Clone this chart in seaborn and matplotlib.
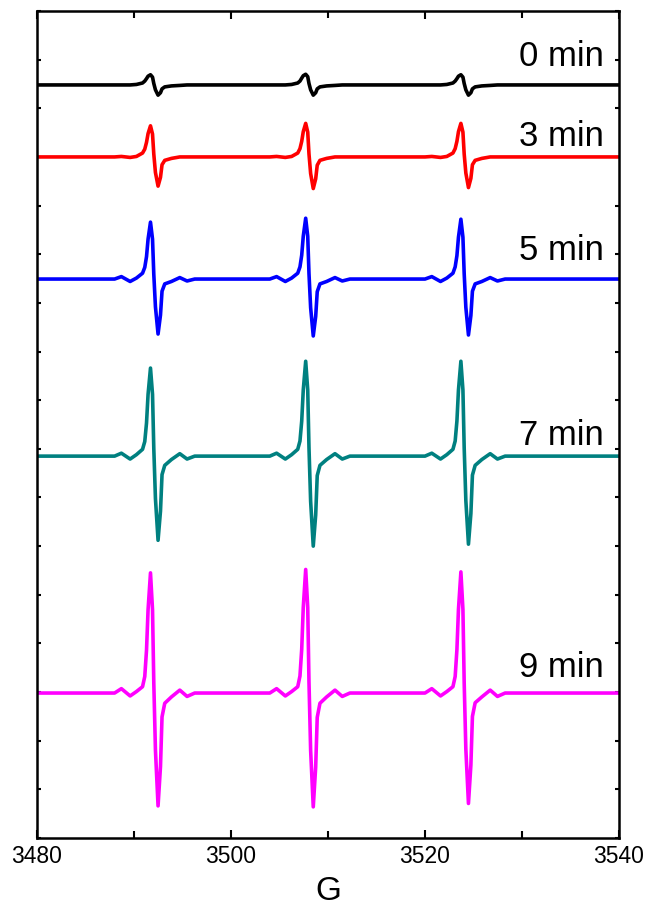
import numpy as np
import pandas as pd
import matplotlib
matplotlib.use("Agg")
import matplotlib.pyplot as plt
from matplotlib.ticker import MultipleLocator, NullFormatter
import seaborn as sns

# EPR spectra (field in G, intensity in
# arbitrary units relative to each trace's own baseline)
field_G = [3480.0,
           3488.00, 3488.70, 3489.60, 3490.25, 3490.88, 3491.11, 3491.29, 3491.45, 3491.70, 3491.91,
           3492.04, 3492.21, 3492.48, 3492.73, 3492.89, 3493.17, 3493.86, 3494.72, 3495.47, 3496.26,
           3504.00, 3504.70, 3505.60, 3506.25, 3506.88, 3507.11, 3507.29, 3507.45, 3507.70, 3507.91,
           3508.04, 3508.21, 3508.48, 3508.73, 3508.89, 3509.17, 3509.86, 3510.72, 3511.47, 3512.26,
           3520.00, 3520.70, 3521.60, 3522.25, 3522.88, 3523.11, 3523.29, 3523.45, 3523.70, 3523.91,
           3524.04, 3524.21, 3524.48, 3524.73, 3524.89, 3525.17, 3525.86, 3526.72, 3527.47, 3528.26,
           3540.0]

int_0min = [0.0,
            0, 0.0, 0.0, 0.01, 0.04, 0.08, 0.13, 0.18, 0.21, 0.16,
            0.03, -0.10, -0.21, -0.16, -0.08, -0.04, -0.02, -0.01, 0.0, 0.0,
            0, 0.0, 0.0, 0.01, 0.04, 0.08, 0.14, 0.19, 0.22, 0.17,
            0.03, -0.10, -0.21, -0.16, -0.08, -0.04, -0.02, -0.01, 0.0, 0.0,
            0, 0.0, 0.0, 0.01, 0.04, 0.08, 0.13, 0.18, 0.21, 0.16,
            0.03, -0.10, -0.21, -0.16, -0.08, -0.04, -0.02, -0.01, 0.0, 0.0,
            0.0]

int_3min = [0.0,
            0, 0.01, -0.01, 0.01, 0.08, 0.16, 0.30, 0.48, 0.64, 0.47,
            0.06, -0.32, -0.60, -0.42, -0.16, -0.07, -0.03, 0.0, 0.0, 0.0,
            0, 0.01, -0.01, 0.01, 0.08, 0.17, 0.32, 0.52, 0.69, 0.51,
            0.06, -0.34, -0.65, -0.45, -0.17, -0.07, -0.03, 0.0, 0.0, 0.0,
            0, 0.01, -0.01, 0.01, 0.08, 0.17, 0.32, 0.52, 0.69, 0.51,
            0.06, -0.33, -0.63, -0.44, -0.16, -0.07, -0.03, 0.0, 0.0, 0.0,
            0.0]

int_5min = [0.0,
            0, 0.05, -0.05, 0.02, 0.12, 0.24, 0.46, 0.82, 1.17, 0.82,
            0.10, -0.57, -1.13, -0.74, -0.25, -0.10, -0.05, 0.03, -0.04, 0.0,
            0, 0.05, -0.05, 0.02, 0.12, 0.25, 0.49, 0.88, 1.25, 0.88,
            0.11, -0.59, -1.17, -0.77, -0.26, -0.10, -0.05, 0.03, -0.04, 0.0,
            0, 0.05, -0.05, 0.02, 0.12, 0.25, 0.48, 0.86, 1.23, 0.86,
            0.11, -0.58, -1.15, -0.75, -0.25, -0.10, -0.05, 0.03, -0.04, 0.0,
            0.0]

int_7min = [0.0,
            0, 0.06, -0.06, 0.03, 0.14, 0.30, 0.68, 1.27, 1.81, 1.27,
            0.16, -0.87, -1.73, -1.13, -0.38, -0.19, -0.07, 0.05, -0.06, 0.0,
            0, 0.06, -0.06, 0.03, 0.14, 0.31, 0.72, 1.36, 1.95, 1.36,
            0.17, -0.93, -1.85, -1.21, -0.40, -0.19, -0.07, 0.05, -0.06, 0.0,
            0, 0.06, -0.06, 0.03, 0.14, 0.31, 0.72, 1.36, 1.95, 1.36,
            0.17, -0.91, -1.81, -1.18, -0.39, -0.19, -0.07, 0.05, -0.06, 0.0,
            0.0]

int_9min = [0.0,
            0, 0.09, -0.06, 0.03, 0.13, 0.34, 0.88, 1.71, 2.47, 1.71,
            0.21, -1.17, -2.32, -1.51, -0.49, -0.21, -0.08, 0.06, -0.07, 0.0,
            0, 0.09, -0.06, 0.03, 0.13, 0.35, 0.90, 1.76, 2.54, 1.76,
            0.22, -1.18, -2.34, -1.52, -0.50, -0.21, -0.08, 0.06, -0.07, 0.0,
            0, 0.09, -0.06, 0.03, 0.13, 0.34, 0.89, 1.72, 2.49, 1.72,
            0.21, -1.15, -2.27, -1.48, -0.48, -0.20, -0.08, 0.06, -0.07, 0.0,
            0.0]

labels = ["0 min", "3 min", "5 min", "7 min", "9 min"]
spectra = [int_0min, int_3min, int_5min, int_7min, int_9min]
offsets = [15.48, 14.0, 11.49, 7.85, 2.98]     # vertical stacking
label_y = [16.07, 14.42, 12.07, 8.28, 3.50]
colors = ["#000000", "#FF0000", "#0000FF", "#008080", "#FF00FF"]

sns.set_style("ticks")
plt.rcParams["font.family"] = ["Liberation Sans", "DejaVu Sans"]
plt.rcParams["text.color"] = "black"
plt.rcParams["axes.labelcolor"] = "black"

fig = plt.figure(figsize=(6.51, 9.11), dpi=100)
ax = fig.add_axes([37 / 651, 73 / 911, 582 / 651, 827 / 911])

for lab, spec, off, ly, c in zip(labels, spectra, offsets, label_y, colors):
    df = pd.DataFrame({"G": field_G, "I": np.array(spec) + off})
    sns.lineplot(data=df, x="G", y="I", color=c, lw=2.6, ax=ax,
                 estimator=None, sort=False)
    ax.text(3538.4, ly, lab, ha="right", va="center", fontsize=25, color="black")

ax.set_xlim(3480, 3540)
ax.set_ylim(0, 17)
ax.set_xticks([3480, 3500, 3520, 3540])
ax.xaxis.set_minor_locator(MultipleLocator(10))
ax.yaxis.set_major_locator(MultipleLocator(1))
ax.yaxis.set_major_formatter(NullFormatter())
ax.tick_params(axis="both", which="both", direction="in", top=True, right=True,
               width=1.5, colors="black")
ax.tick_params(axis="x", which="major", length=6, labelsize=16.5, pad=5)
ax.tick_params(axis="x", which="minor", length=5)
ax.tick_params(axis="y", which="major", length=3)
ax.set_xlabel("G", fontsize=24, labelpad=6, color="black")
ax.set_ylabel("")
for s in ax.spines.values():
    s.set_linewidth(1.8)
    s.set_color("black")

fig.savefig("out.png", dpi=100)
